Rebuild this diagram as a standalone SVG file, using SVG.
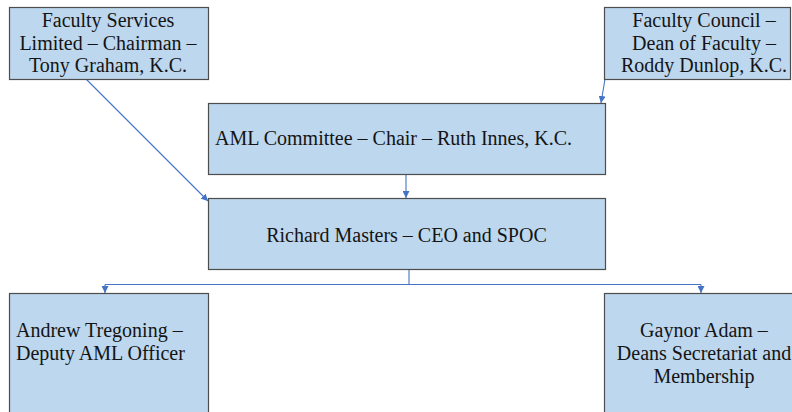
<svg xmlns="http://www.w3.org/2000/svg" width="792" height="412" viewBox="0 0 792 412">
<style>
.box{fill:#BDD7EE;stroke:#4d4d4d;stroke-width:1.2}
.t{font-family:"Liberation Serif","Times New Roman",serif;font-size:20px;fill:#141414}
.c{text-anchor:middle}
.ln{stroke:#4472C4;stroke-width:1.1;fill:none}
</style>
<defs>
<marker id="ah" viewBox="0 0 10 10" refX="10" refY="5" markerWidth="7" markerHeight="7" markerUnits="userSpaceOnUse" orient="auto">
<path d="M0,0 L10,5 L0,10 z" fill="#4472C4"/>
</marker>
</defs>
<rect width="792" height="412" fill="#fff"/>
<g id="connectors">
<line class="ln" x1="86" y1="79" x2="208" y2="201" marker-end="url(#ah)"/>
<line class="ln" x1="605" y1="79" x2="601" y2="103" marker-end="url(#ah)"/>
<line class="ln" x1="406" y1="174" x2="406" y2="198" marker-end="url(#ah)"/>
<line class="ln" x1="409" y1="269" x2="409" y2="284.5"/>
<line class="ln" x1="105" y1="284.5" x2="701" y2="284.5"/>
<line class="ln" x1="105" y1="284.5" x2="105" y2="293" marker-end="url(#ah)"/>
<line class="ln" x1="701" y1="284.5" x2="701" y2="293" marker-end="url(#ah)"/>
</g>
<g id="faculty-services">
<rect class="box" x="9.5" y="7.5" width="199" height="72"/>
<text class="t c" x="108" y="27">Faculty Services</text>
<text class="t c" x="108" y="49.5">Limited – Chairman –</text>
<text class="t c" x="108" y="72">Tony Graham, K.C.</text>
</g>
<g id="faculty-council">
<rect class="box" x="604.5" y="7.5" width="186" height="72"/>
<text class="t c" x="704" y="27">Faculty Council –</text>
<text class="t c" x="704" y="49.5">Dean of Faculty –</text>
<text class="t c" x="704" y="72">Roddy Dunlop, K.C.</text>
</g>
<g id="aml-committee">
<rect class="box" x="208.5" y="103.5" width="397" height="71"/>
<text class="t" x="215" y="145">AML Committee – Chair – Ruth Innes, K.C.</text>
</g>
<g id="richard-masters">
<rect class="box" x="208.5" y="198.5" width="397" height="71"/>
<text class="t c" x="406.5" y="242">Richard Masters – CEO and SPOC</text>
</g>
<g id="andrew-tregoning">
<rect class="box" x="9.5" y="293.5" width="199" height="130"/>
<text class="t" x="16" y="337">Andrew Tregoning –</text>
<text class="t" x="16" y="360">Deputy AML Officer</text>
</g>
<g id="gaynor-adam">
<rect class="box" x="604.5" y="293.5" width="200" height="130"/>
<text class="t c" x="704" y="337">Gaynor Adam –</text>
<text class="t c" x="704" y="360">Deans Secretariat and</text>
<text class="t c" x="704" y="383">Membership</text>
</g>
</svg>
